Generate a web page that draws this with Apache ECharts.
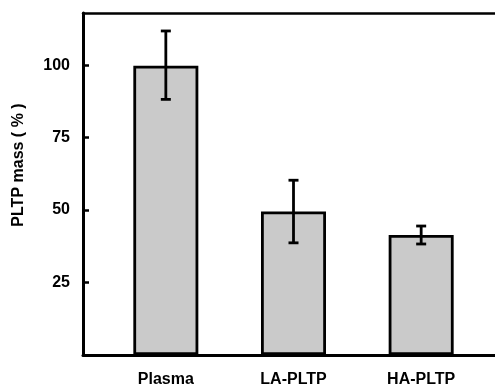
<!DOCTYPE html>
<html>
<head>
<meta charset="utf-8">
<script src="https://cdn.jsdelivr.net/npm/echarts@6/dist/echarts.min.js"></script>
<style>html,body{margin:0;padding:0;background:#fff;}#c{width:495px;height:389px;}</style>
</head>
<body>
<div id="c"></div>
<script>
const categories = ['Plasma', 'LA-PLTP', 'HA-PLTP'];
const means = [99.8, 49.5, 41.4];
const errLow = [88.2, 38.7, 38.3];
const errHigh = [111.8, 60.3, 44.5];
const yTicks = [25, 50, 75, 100];
const yTitle = 'PLTP mass ( % )';

const FONT = 'Liberation Sans, Arial, sans-serif';
const chart = echarts.init(document.getElementById('c'));
const gTop = 13, gBottom = 34;
const yMax = 118;

chart.setOption({
  backgroundColor: '#fff',
  animation: false,
  grid: [
    { left: 83, right: 0, top: gTop, bottom: gBottom },
    { left: 102, right: 10, top: gTop, bottom: gBottom }
  ],
  xAxis: [
    { gridIndex: 0, type: 'value', min: 0, max: 1, position: 'bottom',
      axisLine: { show: true, lineStyle: { color: '#000', width: 3 } },
      axisTick: { show: false }, axisLabel: { show: false }, splitLine: { show: false } },
    { gridIndex: 0, type: 'value', min: 0, max: 1, position: 'top',
      axisLine: { show: true, lineStyle: { color: '#000', width: 2.5 } },
      axisTick: { show: false }, axisLabel: { show: false }, splitLine: { show: false } },
    { gridIndex: 1, type: 'category', data: categories,
      axisLine: { show: false }, axisTick: { show: false }, splitLine: { show: false },
      axisLabel: { color: '#000', fontFamily: FONT, fontWeight: 'bold', fontSize: 16, margin: 17 } }
  ],
  yAxis: [
    { gridIndex: 0, type: 'value', min: 0, max: yMax,
      axisLine: { show: true, onZero: false, lineStyle: { color: '#000', width: 3 } },
      axisTick: { show: true, inside: true, length: 6, lineStyle: { color: '#000', width: 2.5 }, customValues: yTicks },
      axisLabel: { color: '#000', fontFamily: FONT, fontWeight: 'bold', fontSize: 16, margin: 13, customValues: yTicks },
      splitLine: { show: false } },
    { gridIndex: 1, type: 'value', min: 0, max: yMax, show: false, splitLine: { show: false } }
  ],
  graphic: [
    { type: 'text', x: 19, y: 165, rotation: Math.PI / 2,
      style: { text: yTitle, fill: '#000', font: 'bold 16px ' + FONT, textAlign: 'center', textVerticalAlign: 'middle' } }
  ],
  series: [
    { type: 'bar', xAxisIndex: 2, yAxisIndex: 1, data: means, barWidth: 65,
      itemStyle: { color: '#cacaca', borderColor: '#000', borderWidth: 2.8 } },
    { type: 'custom', xAxisIndex: 2, yAxisIndex: 1,
      data: categories.map((c, i) => [i, errLow[i], errHigh[i]]),
      renderItem: function (params, api) {
        const lo = api.coord([api.value(0), api.value(1)]);
        const hi = api.coord([api.value(0), api.value(2)]);
        const hw = 5;
        const st = { stroke: '#000', lineWidth: 2.8 };
        return { type: 'group', children: [
          { type: 'line', shape: { x1: hi[0], y1: hi[1], x2: lo[0], y2: lo[1] }, style: st },
          { type: 'line', shape: { x1: hi[0] - hw, y1: hi[1], x2: hi[0] + hw, y2: hi[1] }, style: st },
          { type: 'line', shape: { x1: lo[0] - hw, y1: lo[1], x2: lo[0] + hw, y2: lo[1] }, style: st }
        ]};
      }, z: 5 }
  ]
});
</script>
</body>
</html>
